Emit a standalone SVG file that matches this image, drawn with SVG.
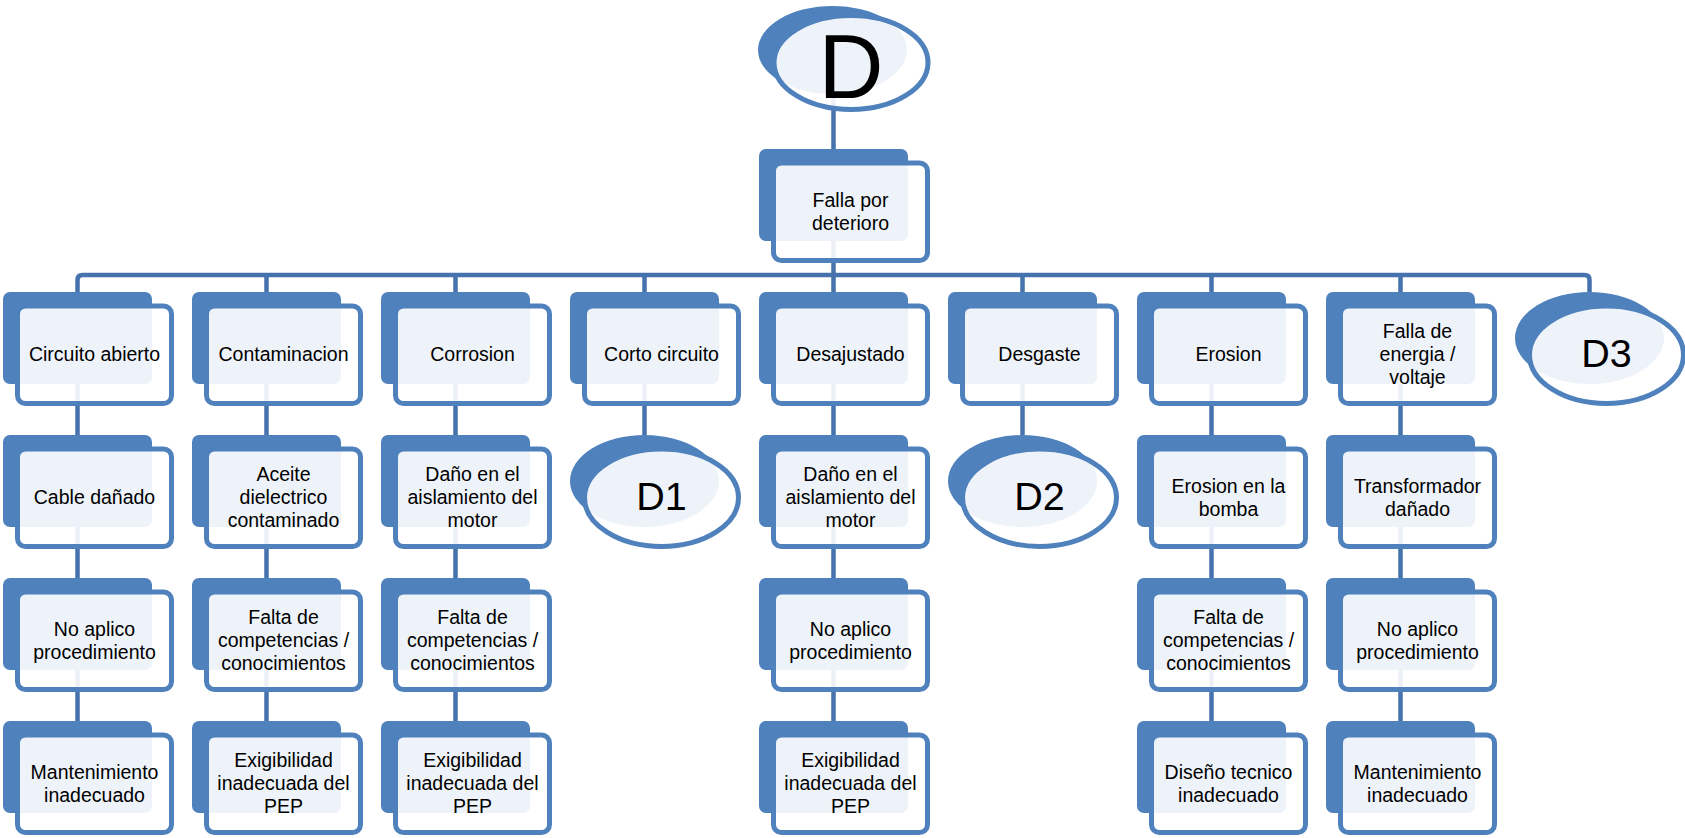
<svg xmlns="http://www.w3.org/2000/svg" width="1685" height="838" viewBox="0 0 1685 838">
  <style>
    .back { fill: #4F81BD; }
    .front { fill: #FFFFFF; fill-opacity: 0.9; stroke: #4F81BD; stroke-width: 5; }
    .conn { fill: none; stroke: #4673AD; stroke-width: 4.5; }
    .lbl { font-family: "Liberation Sans", Arial, sans-serif; font-size: 19.5px; text-anchor: middle; fill: #000000; }
    .big { font-family: "Liberation Sans", Arial, sans-serif; text-anchor: middle; fill: #000000; }
  </style>
  <rect width="1685" height="838" fill="#FFFFFF"/>

  <!-- connectors (drawn below the shapes) -->
  <g id="connectors" class="conn">
    <path d="M833.5,92 V149"/>
    <path d="M833.5,241 V275"/>
    <path d="M77.5,292 V280 Q77.5,275 82.5,275 H1584.5 Q1589.5,275 1589.5,280 V292"/>
    <path d="M266.5,275 V292 M455.5,275 V292 M644.5,275 V292 M833.5,275 V292 M1022.5,275 V292 M1211.5,275 V292 M1400.5,275 V292"/>
    <path d="M77.5,384 V435 M77.5,527 V578 M77.5,670 V721"/>
    <path d="M266.5,384 V435 M266.5,527 V578 M266.5,670 V721"/>
    <path d="M455.5,384 V435 M455.5,527 V578 M455.5,670 V721"/>
    <path d="M644.5,384 V435"/>
    <path d="M833.5,384 V435 M833.5,527 V578 M833.5,670 V721"/>
    <path d="M1022.5,384 V435"/>
    <path d="M1211.5,384 V435 M1211.5,527 V578 M1211.5,670 V721"/>
    <path d="M1400.5,384 V435 M1400.5,527 V578 M1400.5,670 V721"/>
  </g>

  <!-- root -->
  <g id="node-D">
    <ellipse class="back" cx="832.5" cy="50" rx="74.5" ry="44"/>
    <ellipse class="front" cx="851" cy="62.5" rx="77" ry="47"/>
    <text class="big" x="851" y="98" font-size="90">D</text>
  </g>

  <g id="node-falla-deterioro">
    <rect class="back" x="759" y="149" width="149" height="92" rx="7"/>
    <rect class="front" x="773.5" y="163" width="154" height="97.5" rx="8"/>
    <text class="lbl" x="850.5" y="206.5">Falla por</text>
    <text class="lbl" x="850.5" y="229.5">deterioro</text>
  </g>

  <!-- column 1 -->
  <g id="node-circuito-abierto">
    <rect class="back" x="3" y="292" width="149" height="92" rx="7"/>
    <rect class="front" x="17.5" y="306" width="154" height="97.5" rx="8"/>
    <text class="lbl" x="94.5" y="361">Circuito abierto</text>
  </g>
  <g id="node-cable-danado">
    <rect class="back" x="3" y="435" width="149" height="92" rx="7"/>
    <rect class="front" x="17.5" y="449" width="154" height="97.5" rx="8"/>
    <text class="lbl" x="94.5" y="504">Cable dañado</text>
  </g>
  <g id="node-c1-procedimiento">
    <rect class="back" x="3" y="578" width="149" height="92" rx="7"/>
    <rect class="front" x="17.5" y="592" width="154" height="97.5" rx="8"/>
    <text class="lbl" x="94.5" y="635.5">No aplico</text>
    <text class="lbl" x="94.5" y="658.5">procedimiento</text>
  </g>
  <g id="node-c1-mantenimiento">
    <rect class="back" x="3" y="721" width="149" height="92" rx="7"/>
    <rect class="front" x="17.5" y="735" width="154" height="97.5" rx="8"/>
    <text class="lbl" x="94.5" y="778.5">Mantenimiento</text>
    <text class="lbl" x="94.5" y="801.5">inadecuado</text>
  </g>

  <!-- column 2 -->
  <g id="node-contaminacion">
    <rect class="back" x="192" y="292" width="149" height="92" rx="7"/>
    <rect class="front" x="206.5" y="306" width="154" height="97.5" rx="8"/>
    <text class="lbl" x="283.5" y="361">Contaminacion</text>
  </g>
  <g id="node-aceite">
    <rect class="back" x="192" y="435" width="149" height="92" rx="7"/>
    <rect class="front" x="206.5" y="449" width="154" height="97.5" rx="8"/>
    <text class="lbl" x="283.5" y="481">Aceite</text>
    <text class="lbl" x="283.5" y="504">dielectrico</text>
    <text class="lbl" x="283.5" y="527">contaminado</text>
  </g>
  <g id="node-c2-competencias">
    <rect class="back" x="192" y="578" width="149" height="92" rx="7"/>
    <rect class="front" x="206.5" y="592" width="154" height="97.5" rx="8"/>
    <text class="lbl" x="283.5" y="624">Falta de</text>
    <text class="lbl" x="283.5" y="647">competencias /</text>
    <text class="lbl" x="283.5" y="670">conocimientos</text>
  </g>
  <g id="node-c2-exigibilidad">
    <rect class="back" x="192" y="721" width="149" height="92" rx="7"/>
    <rect class="front" x="206.5" y="735" width="154" height="97.5" rx="8"/>
    <text class="lbl" x="283.5" y="767">Exigibilidad</text>
    <text class="lbl" x="283.5" y="790">inadecuada del</text>
    <text class="lbl" x="283.5" y="813">PEP</text>
  </g>

  <!-- column 3 -->
  <g id="node-corrosion">
    <rect class="back" x="381" y="292" width="149" height="92" rx="7"/>
    <rect class="front" x="395.5" y="306" width="154" height="97.5" rx="8"/>
    <text class="lbl" x="472.5" y="361">Corrosion</text>
  </g>
  <g id="node-c3-aislamiento">
    <rect class="back" x="381" y="435" width="149" height="92" rx="7"/>
    <rect class="front" x="395.5" y="449" width="154" height="97.5" rx="8"/>
    <text class="lbl" x="472.5" y="481">Daño en el</text>
    <text class="lbl" x="472.5" y="504">aislamiento del</text>
    <text class="lbl" x="472.5" y="527">motor</text>
  </g>
  <g id="node-c3-competencias">
    <rect class="back" x="381" y="578" width="149" height="92" rx="7"/>
    <rect class="front" x="395.5" y="592" width="154" height="97.5" rx="8"/>
    <text class="lbl" x="472.5" y="624">Falta de</text>
    <text class="lbl" x="472.5" y="647">competencias /</text>
    <text class="lbl" x="472.5" y="670">conocimientos</text>
  </g>
  <g id="node-c3-exigibilidad">
    <rect class="back" x="381" y="721" width="149" height="92" rx="7"/>
    <rect class="front" x="395.5" y="735" width="154" height="97.5" rx="8"/>
    <text class="lbl" x="472.5" y="767">Exigibilidad</text>
    <text class="lbl" x="472.5" y="790">inadecuada del</text>
    <text class="lbl" x="472.5" y="813">PEP</text>
  </g>

  <!-- column 4 -->
  <g id="node-corto-circuito">
    <rect class="back" x="570" y="292" width="149" height="92" rx="7"/>
    <rect class="front" x="584.5" y="306" width="154" height="97.5" rx="8"/>
    <text class="lbl" x="661.5" y="361">Corto circuito</text>
  </g>
  <g id="node-D1">
    <ellipse class="back" cx="644.5" cy="481" rx="74.5" ry="46"/>
    <ellipse class="front" cx="661.5" cy="497.75" rx="77" ry="48.75"/>
    <text class="big" x="661.5" y="510" font-size="39.5">D1</text>
  </g>

  <!-- column 5 -->
  <g id="node-desajustado">
    <rect class="back" x="759" y="292" width="149" height="92" rx="7"/>
    <rect class="front" x="773.5" y="306" width="154" height="97.5" rx="8"/>
    <text class="lbl" x="850.5" y="361">Desajustado</text>
  </g>
  <g id="node-c5-aislamiento">
    <rect class="back" x="759" y="435" width="149" height="92" rx="7"/>
    <rect class="front" x="773.5" y="449" width="154" height="97.5" rx="8"/>
    <text class="lbl" x="850.5" y="481">Daño en el</text>
    <text class="lbl" x="850.5" y="504">aislamiento del</text>
    <text class="lbl" x="850.5" y="527">motor</text>
  </g>
  <g id="node-c5-procedimiento">
    <rect class="back" x="759" y="578" width="149" height="92" rx="7"/>
    <rect class="front" x="773.5" y="592" width="154" height="97.5" rx="8"/>
    <text class="lbl" x="850.5" y="635.5">No aplico</text>
    <text class="lbl" x="850.5" y="658.5">procedimiento</text>
  </g>
  <g id="node-c5-exigibilidad">
    <rect class="back" x="759" y="721" width="149" height="92" rx="7"/>
    <rect class="front" x="773.5" y="735" width="154" height="97.5" rx="8"/>
    <text class="lbl" x="850.5" y="767">Exigibilidad</text>
    <text class="lbl" x="850.5" y="790">inadecuada del</text>
    <text class="lbl" x="850.5" y="813">PEP</text>
  </g>

  <!-- column 6 -->
  <g id="node-desgaste">
    <rect class="back" x="948" y="292" width="149" height="92" rx="7"/>
    <rect class="front" x="962.5" y="306" width="154" height="97.5" rx="8"/>
    <text class="lbl" x="1039.5" y="361">Desgaste</text>
  </g>
  <g id="node-D2">
    <ellipse class="back" cx="1022.5" cy="481" rx="74.5" ry="46"/>
    <ellipse class="front" cx="1039.5" cy="497.75" rx="77" ry="48.75"/>
    <text class="big" x="1039.5" y="510" font-size="39.5">D2</text>
  </g>

  <!-- column 7 -->
  <g id="node-erosion">
    <rect class="back" x="1137" y="292" width="149" height="92" rx="7"/>
    <rect class="front" x="1151.5" y="306" width="154" height="97.5" rx="8"/>
    <text class="lbl" x="1228.5" y="361">Erosion</text>
  </g>
  <g id="node-erosion-bomba">
    <rect class="back" x="1137" y="435" width="149" height="92" rx="7"/>
    <rect class="front" x="1151.5" y="449" width="154" height="97.5" rx="8"/>
    <text class="lbl" x="1228.5" y="492.5">Erosion en la</text>
    <text class="lbl" x="1228.5" y="515.5">bomba</text>
  </g>
  <g id="node-c7-competencias">
    <rect class="back" x="1137" y="578" width="149" height="92" rx="7"/>
    <rect class="front" x="1151.5" y="592" width="154" height="97.5" rx="8"/>
    <text class="lbl" x="1228.5" y="624">Falta de</text>
    <text class="lbl" x="1228.5" y="647">competencias /</text>
    <text class="lbl" x="1228.5" y="670">conocimientos</text>
  </g>
  <g id="node-diseno-tecnico">
    <rect class="back" x="1137" y="721" width="149" height="92" rx="7"/>
    <rect class="front" x="1151.5" y="735" width="154" height="97.5" rx="8"/>
    <text class="lbl" x="1228.5" y="778.5">Diseño tecnico</text>
    <text class="lbl" x="1228.5" y="801.5">inadecuado</text>
  </g>

  <!-- column 8 -->
  <g id="node-falla-energia">
    <rect class="back" x="1326" y="292" width="149" height="92" rx="7"/>
    <rect class="front" x="1340.5" y="306" width="154" height="97.5" rx="8"/>
    <text class="lbl" x="1417.5" y="338">Falla de</text>
    <text class="lbl" x="1417.5" y="361">energia /</text>
    <text class="lbl" x="1417.5" y="384">voltaje</text>
  </g>
  <g id="node-transformador">
    <rect class="back" x="1326" y="435" width="149" height="92" rx="7"/>
    <rect class="front" x="1340.5" y="449" width="154" height="97.5" rx="8"/>
    <text class="lbl" x="1417.5" y="492.5">Transformador</text>
    <text class="lbl" x="1417.5" y="515.5">dañado</text>
  </g>
  <g id="node-c8-procedimiento">
    <rect class="back" x="1326" y="578" width="149" height="92" rx="7"/>
    <rect class="front" x="1340.5" y="592" width="154" height="97.5" rx="8"/>
    <text class="lbl" x="1417.5" y="635.5">No aplico</text>
    <text class="lbl" x="1417.5" y="658.5">procedimiento</text>
  </g>
  <g id="node-c8-mantenimiento">
    <rect class="back" x="1326" y="721" width="149" height="92" rx="7"/>
    <rect class="front" x="1340.5" y="735" width="154" height="97.5" rx="8"/>
    <text class="lbl" x="1417.5" y="778.5">Mantenimiento</text>
    <text class="lbl" x="1417.5" y="801.5">inadecuado</text>
  </g>

  <!-- column 9 -->
  <g id="node-D3">
    <ellipse class="back" cx="1589.5" cy="338" rx="74.5" ry="46"/>
    <ellipse class="front" cx="1606.5" cy="354.75" rx="77" ry="48.75"/>
    <text class="big" x="1606.5" y="367" font-size="39.5">D3</text>
  </g>
</svg>
